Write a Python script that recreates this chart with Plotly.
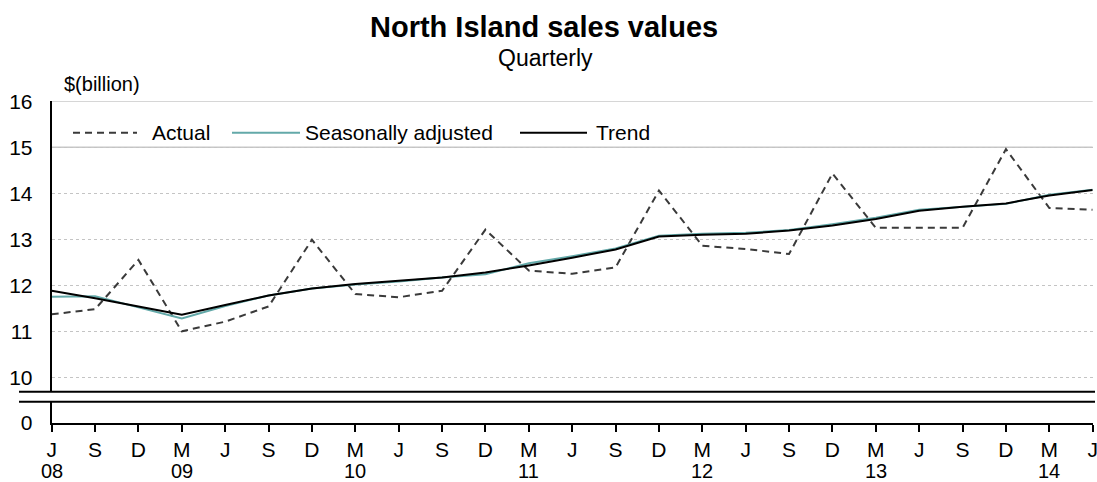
import plotly.graph_objects as go

# ---- data ----
quarter_letters = ["J", "S", "D", "M", "J", "S", "D", "M", "J", "S", "D", "M", "J",
                   "S", "D", "M", "J", "S", "D", "M", "J", "S", "D", "M", "J"]
year_labels = ["08", "09", "10", "11", "12", "13", "14"]
year_positions = [0, 3, 7, 11, 15, 19, 23]

actual = [11.37, 11.48, 12.55, 11.00, 11.21, 11.54, 12.99, 11.81, 11.74, 11.88, 13.21, 12.32, 12.25,
          12.39, 14.06, 12.86, 12.79, 12.68, 14.43, 13.25, 13.25, 13.25, 14.96, 13.68, 13.64]
seasonally_adjusted = [11.75, 11.76, 11.52, 11.28, 11.55, 11.78, 11.93, 12.02, 12.08, 12.17, 12.24, 12.48, 12.63,
                       12.80, 13.08, 13.12, 13.14, 13.20, 13.33, 13.47, 13.64, 13.70, 13.77, 13.97, 14.08]
trend = [11.88, 11.72, 11.54, 11.36, 11.57, 11.78, 11.93, 12.03, 12.10, 12.17, 12.28, 12.43, 12.60,
         12.78, 13.06, 13.10, 13.12, 13.19, 13.30, 13.44, 13.62, 13.71, 13.78, 13.95, 14.07]

upper_ticks = [10, 11, 12, 13, 14, 15, 16]
lower_ticks = [0]

W, H = 1097, 482
FONT = "Arial, Liberation Sans, sans-serif"
x = list(range(len(quarter_letters)))


def px_x(p):
    return p / W


def px_y(p):
    return (H - p) / H


fig = go.Figure()
fig.add_trace(go.Scatter(x=x, y=actual, mode="lines", name="Actual",
                         line=dict(color="#3a3a3a", width=2, dash="7px,5px")))
fig.add_trace(go.Scatter(x=x, y=seasonally_adjusted, mode="lines", name="Seasonally adjusted",
                         line=dict(color="#63a9a9", width=2)))
fig.add_trace(go.Scatter(x=x, y=trend, mode="lines", name="Trend",
                         line=dict(color="#000000", width=2)))
# invisible helper trace so the lower (0) panel of the broken axis is created
fig.add_trace(go.Scatter(x=[0], y=[0], xaxis="x", yaxis="y2", mode="markers",
                         marker=dict(opacity=0), hoverinfo="skip", showlegend=False))

x_dom = [px_x(51.7), px_x(1092.7)]

fig.update_layout(
    width=W, height=H,
    margin=dict(l=0, r=0, t=0, b=0, pad=0, autoexpand=False),
    paper_bgcolor="white", plot_bgcolor="white",
    showlegend=False,
    font=dict(family=FONT, size=21, color="black"),
    xaxis=dict(domain=x_dom, range=[0, 24], anchor="y2", automargin=False,
               tickmode="array", tickvals=x, ticktext=quarter_letters,
               ticklabeloverflow="allow",
               showline=True, linecolor="black", linewidth=2,
               ticks="outside", ticklen=7, tickwidth=1.5, tickcolor="black",
               showgrid=False, zeroline=False,
               tickfont=dict(size=21, family=FONT, color="black")),
    yaxis=dict(domain=[px_y(391.7), px_y(101.3)], range=[9.687, 16], anchor="x", automargin=False,
               tickmode="array", tickvals=upper_ticks,
               showline=True, linecolor="black", linewidth=2,
               ticks="outside", ticklen=13, tickcolor="rgba(0,0,0,0)",
               showgrid=True, gridcolor="#c4c4c4", gridwidth=1, griddash="dot",
               zeroline=False, tickfont=dict(size=21, family=FONT, color="black")),
    yaxis2=dict(domain=[px_y(422.7), px_y(401.7)], range=[0, 1], anchor="x", automargin=False,
                tickmode="array", tickvals=lower_ticks,
                showline=True, linecolor="black", linewidth=2,
                ticks="outside", ticklen=13, tickcolor="rgba(0,0,0,0)",
                showgrid=False, zeroline=False,
                tickfont=dict(size=21, family=FONT, color="black")),
)

shapes = []
# solid light lines at 15 and 16
for v in [15, 16]:
    shapes.append(dict(type="line", xref="paper", yref="y", x0=x_dom[0], x1=x_dom[1], y0=v, y1=v,
                       line=dict(color="#c8c8c8", width=1.5), layer="below"))
# axis break lines
for yp in [391.7, 401.7]:
    shapes.append(dict(type="line", xref="paper", yref="paper", x0=px_x(19), x1=px_x(1095),
                       y0=px_y(yp), y1=px_y(yp), line=dict(color="black", width=2)))

# manual legend
leg_y = px_y(132.7)
legend_items = [
    ("Actual", 73, 137, 150, dict(color="#3a3a3a", width=2, dash="7px,5px")),
    ("Seasonally adjusted", 232, 300, 303, dict(color="#63a9a9", width=2)),
    ("Trend", 520, 587, 594, dict(color="#000000", width=2)),
]
annotations = []
for name, x0, x1, tx, ln in legend_items:
    shapes.append(dict(type="line", xref="paper", yref="paper", x0=px_x(x0), x1=px_x(x1),
                       y0=leg_y, y1=leg_y, line=ln))
    annotations.append(dict(text=name, xref="paper", yref="paper", x=px_x(tx), y=leg_y,
                            xanchor="left", yanchor="middle", showarrow=False,
                            font=dict(size=21, family=FONT, color="black")))

# year labels under quarter letters
for lab, pos in zip(year_labels, year_positions):
    annotations.append(dict(text=lab, xref="x", yref="paper", x=pos, y=px_y(470.5),
                            xanchor="center", yanchor="middle", showarrow=False,
                            font=dict(size=20, family=FONT, color="black")))

# titles
annotations.append(dict(text="<b>North Island sales values</b>", xref="paper", yref="paper",
                        x=px_x(544), y=px_y(27), xanchor="center", yanchor="middle", showarrow=False,
                        font=dict(size=29, family=FONT, color="black")))
annotations.append(dict(text="Quarterly", xref="paper", yref="paper",
                        x=px_x(545), y=px_y(58), xanchor="center", yanchor="middle", showarrow=False,
                        font=dict(size=23, family=FONT, color="black")))
annotations.append(dict(text="$(billion)", xref="paper", yref="paper",
                        x=px_x(62), y=px_y(84), xanchor="left", yanchor="middle", showarrow=False,
                        font=dict(size=20, family=FONT, color="black")))

fig.update_layout(shapes=shapes, annotations=annotations)
fig.write_html("out.html", config={"displayModeBar": False},
               post_script="document.body.style.margin='0';document.body.style.padding='0';"
                           "document.body.style.overflow='hidden';")
